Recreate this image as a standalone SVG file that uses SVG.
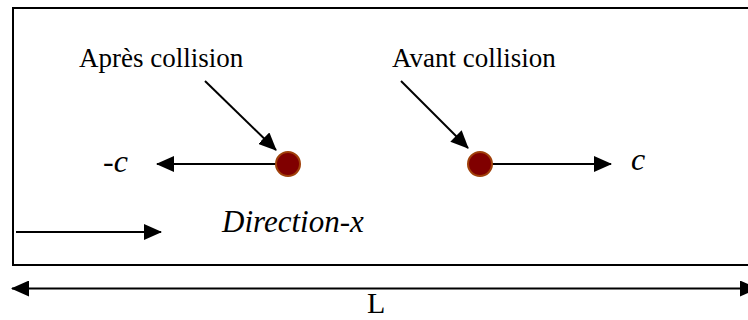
<svg xmlns="http://www.w3.org/2000/svg" width="748" height="320" viewBox="0 0 748 320">
<defs>
<marker id="ah" markerUnits="userSpaceOnUse" markerWidth="18" markerHeight="16" refX="17" refY="8" orient="auto-start-reverse" viewBox="0 0 18 16">
<path d="M0,0 L18,8 L0,16 z" fill="#000"/>
</marker>
</defs>
<rect width="748" height="320" fill="#fff"/>
<rect id="box" x="13" y="8" width="760" height="257" fill="none" stroke="#000" stroke-width="2"/>
<g id="connectors" stroke="#000" stroke-width="2" fill="none">
<line x1="205" y1="81" x2="276" y2="150" marker-end="url(#ah)"/>
<line x1="401" y1="81" x2="468" y2="148" marker-end="url(#ah)"/>
<line x1="276" y1="164" x2="157" y2="164" marker-end="url(#ah)"/>
<line x1="492" y1="164" x2="611" y2="164" marker-end="url(#ah)"/>
<line x1="16" y1="232" x2="161" y2="232" marker-end="url(#ah)"/>
<line x1="12" y1="288.5" x2="757" y2="288.5" marker-start="url(#ah)" marker-end="url(#ah)"/>
</g>
<g id="ball-after"><circle cx="288" cy="164" r="12" fill="#800000" stroke="#A0400A" stroke-width="2"/></g>
<g id="ball-before"><circle cx="480" cy="164" r="12" fill="#800000" stroke="#A0400A" stroke-width="2"/></g>
<g id="labels">
<text x="79" y="67" font-size="27" font-family="Liberation Serif">Après collision</text>
<text x="392" y="67" font-size="27" font-family="Liberation Serif">Avant collision</text>
<text x="103" y="172" font-size="32" font-family="Liberation Serif" font-style="italic">-c</text>
<text x="631" y="170" font-size="32" font-family="Liberation Serif" font-style="italic">c</text>
<text x="222" y="232" font-size="31" font-family="Liberation Serif" font-style="italic">Direction-x</text>
<text x="367" y="313" font-size="30" font-family="Liberation Serif">L</text>
</g>
</svg>
